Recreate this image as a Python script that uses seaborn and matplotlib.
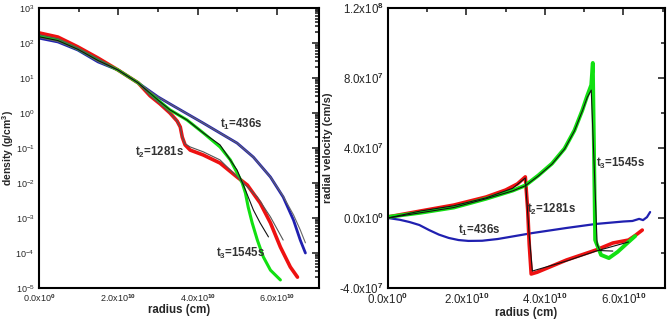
import numpy as np
import pandas as pd
import seaborn as sns
import matplotlib.pyplot as plt
from matplotlib.ticker import FixedLocator, MultipleLocator, LogLocator, FixedFormatter, NullFormatter

# radius in units of 1e10 cm, density given as log10(g/cm^3)
r_t1 = [0, 0.48, 0.98, 1.49, 1.99, 2.50, 3.00, 3.30, 4.14, 4.99, 5.40, 5.83, 6.15, 6.41, 6.58, 6.71]
ld_t1 = [2.14, 2.03, 1.80, 1.46, 1.23, 0.86, 0.46, 0.26, -0.29, -0.86, -1.26, -1.83, -2.40, -3.06, -3.63, -4.0]
r_t2 = [0, 0.48, 0.98, 1.49, 1.99, 2.50, 2.80, 3.05, 3.30, 3.48, 3.56, 3.61, 3.68, 3.81, 4.14, 4.56,
        4.99, 5.25, 5.57, 5.83, 6.08, 6.33, 6.51]
ld_t2 = [2.29, 2.17, 1.89, 1.57, 1.23, 0.86, 0.49, 0.26, 0.0, -0.23, -0.40, -0.69, -0.91, -1.06, -1.2, -1.43,
         -1.83, -2.06, -2.57, -3.14, -3.83, -4.4, -4.69]
r_t3 = [0, 0.48, 0.98, 1.49, 1.99, 2.50, 3.00, 3.30, 3.73, 4.14, 4.56, 4.82, 4.99, 5.12, 5.20, 5.27,
        5.37, 5.50, 5.65, 5.83, 6.08]
ld_t3 = [2.2, 2.09, 1.83, 1.51, 1.23, 0.86, 0.37, 0.09, -0.2, -0.57, -0.97, -1.34, -1.71, -2.0, -2.29, -2.69,
         -3.14, -3.63, -4.11, -4.49, -4.77]
# thin model lines
r_m1 = [0, 0.48, 0.98, 1.49, 1.99, 2.50, 3.00, 3.30, 4.14, 4.99, 5.40, 5.83, 6.15, 6.41, 6.58, 6.71]
ld_m1 = [2.16, 2.04, 1.81, 1.47, 1.23, 0.86, 0.46, 0.26, -0.29, -0.86, -1.26, -1.83, -2.38, -2.91, -3.34, -3.71]
r_m2 = [0, 0.48, 0.98, 1.49, 1.99, 2.50, 2.80, 3.05, 3.30, 3.48, 3.56, 3.61, 3.68, 3.81, 4.14, 4.56,
        5.07, 5.50, 5.83, 6.15]
ld_m2 = [2.24, 2.12, 1.86, 1.55, 1.23, 0.86, 0.49, 0.26, 0.0, -0.23, -0.40, -0.69, -0.88, -0.97, -1.11, -1.34,
         -1.91, -2.4, -2.97, -3.63]
r_m3 = [0, 0.48, 0.98, 1.49, 1.99, 2.50, 3.00, 3.30, 3.73, 4.14, 4.56, 4.99, 5.20, 5.40, 5.57, 5.78]
ld_m3 = [2.18, 2.07, 1.82, 1.5, 1.23, 0.86, 0.37, 0.09, -0.2, -0.57, -0.91, -1.63, -2.2, -2.77, -3.14, -3.54]

# radial velocity in units of 1e7 cm/s
rv_r1 = [0, 0.3, 0.55, 0.8, 1.05, 1.3, 1.55, 1.8, 2.05, 2.4, 2.8, 3.68, 4.55, 5.3, 6.0, 6.23, 6.4, 6.5, 6.6, 6.68]
v_t1 = [0, -0.1, -0.23, -0.4, -0.69, -0.95, -1.14, -1.26, -1.31, -1.3, -1.2, -0.86, -0.57, -0.34, -0.2, -0.17,
        -0.05, -0.12, 0.05, 0.34]
rv_r2 = [0, 0.83, 1.68, 2.5, 3.0, 3.3, 3.5, 3.56, 3.6, 3.65, 3.8, 4.55, 5.3, 5.73, 6.13, 6.3, 6.48]
v_t2 = [0.06, 0.4, 0.74, 1.2, 1.6, 1.95, 2.35, 0.5, -1.5, -3.2, -3.1, -2.4, -1.83, -1.43, -1.26, -1.0, -0.69]
rv_r3 = [0, 0.83, 1.68, 2.5, 3.18, 3.5, 3.83, 4.18, 4.5, 4.75, 4.95, 5.08, 5.18, 5.22, 5.25, 5.28, 5.43, 5.63,
         5.85, 6.13, 6.3]
v_t3 = [0.06, 0.3, 0.6, 1.1, 1.57, 1.86, 2.43, 3.11, 3.97, 5.0, 6.14, 7.0, 7.6, 8.86, 3.89, -1.26, -2.11, -2.29,
        -1.94, -1.37, -1.03]
rv_m2 = [0, 0.83, 1.68, 2.5, 3.18, 3.5, 3.6, 3.68, 4.55, 5.3, 6.13]
v_m2 = [0, 0.4, 0.7, 1.15, 1.7, 2.29, -1.0, -3.03, -2.46, -1.89, -1.37]
rv_m3 = [0, 0.83, 1.68, 2.5, 3.18, 3.5, 3.83, 4.18, 4.5, 4.75, 4.95, 5.08, 5.18, 5.25, 5.33, 5.4, 5.73]
v_m3 = [0, 0.3, 0.6, 1.1, 1.55, 1.84, 2.4, 3.08, 3.94, 4.97, 6.1, 6.9, 7.31, 3.3, -1.5, -1.86, -1.89]

x_ticks = [0, 2, 4, 6]
x_labels = ['0.0x10$^{0}$', '2.0x10$^{10}$', '4.0x10$^{10}$', '6.0x10$^{10}$']
v_ticks = [-4, 0, 4, 8, 12]
v_labels = ['-4.0x10$^{7}$', '0.0x10$^{0}$', '4.0x10$^{7}$', '8.0x10$^{7}$', '1.2x10$^{8}$']

c_red = '#ee1111'
c_green = '#11e011'
c_blue = '#2020b0'

sns.set_style('white')
plt.rcParams['font.family'] = ['Liberation Sans', 'DejaVu Sans']
plt.rcParams['mathtext.fontset'] = 'custom'
plt.rcParams['mathtext.rm'] = 'Liberation Sans:bold'
plt.rcParams['mathtext.it'] = 'Liberation Sans:bold'
plt.rcParams['mathtext.bf'] = 'Liberation Sans:bold'

f = plt.figure(figsize=(6.7, 3.2), dpi=100)
ax1 = f.add_axes([0.058, 0.1, 0.418, 0.875])
ax2 = f.add_axes([0.579, 0.1, 0.413, 0.875])


def draw(ax, x, y, color, lw):
	df = pd.DataFrame({'x': np.array(x) * 1e10, 'y': y})
	sns.lineplot(ax=ax, data=df, x='x', y='y', color=color, linewidth=lw, sort=False, estimator=None)


# left panel: density
draw(ax1, r_t1, 10 ** np.array(ld_t1), c_blue, 2.0)
draw(ax1, r_t2, 10 ** np.array(ld_t2), c_red, 2.6)
draw(ax1, r_t3, 10 ** np.array(ld_t3), c_green, 2.2)
draw(ax1, r_m1, 10 ** np.array(ld_m1), '#666666', 0.8)
draw(ax1, r_m2, 10 ** np.array(ld_m2), '#555555', 0.8)
draw(ax1, r_m3, 10 ** np.array(ld_m3), '#111111', 0.8)
ax1.set_yscale('log')
ax1.set_ylim(1e-5, 1e3)
ax1.yaxis.set_major_locator(LogLocator(base=10, numticks=20))
ax1.yaxis.set_minor_locator(LogLocator(base=10, subs=np.arange(2, 10), numticks=20))
ax1.yaxis.set_minor_formatter(NullFormatter())
ax1.set_ylabel('density (g/cm$^{3}$)', fontsize=7.5, fontweight='bold')
ax1.yaxis.set_label_coords(-0.082, 0.5)
ax1.tick_params(which='both', labelsize=6.5)
tkw = dict(fontsize=8.3, fontweight='bold', color='#333333', va='center')
ax1.text(4.56e10, 10 ** -0.34, 't$_{1}$=436s', **tkw)
ax1.text(2.42e10, 10 ** -1.14, 't$_{2}$=1281s', **tkw)
ax1.text(4.46e10, 10 ** -4.0, 't$_{3}$=1545s', **tkw)

# right panel: radial velocity
draw(ax2, rv_r1, np.array(v_t1) * 1e7, c_blue, 1.6)
draw(ax2, rv_r2, np.array(v_t2) * 1e7, c_red, 2.6)
draw(ax2, rv_r3, np.array(v_t3) * 1e7, c_green, 2.8)
draw(ax2, rv_m2, np.array(v_m2) * 1e7, '#111111', 0.8)
draw(ax2, rv_m3, np.array(v_m3) * 1e7, '#111111', 0.8)
ax2.set_ylim(-4e7, 1.2e8)
ax2.yaxis.set_major_locator(FixedLocator(np.array(v_ticks) * 1e7))
ax2.yaxis.set_major_formatter(FixedFormatter(v_labels))
ax2.yaxis.set_minor_locator(MultipleLocator(2e7))
ax2.set_ylabel('radial velocity (cm/s)', fontsize=8, fontweight='bold')
ax2.yaxis.set_label_coords(-0.2, 0.5)
ax2.tick_params(which='both', labelsize=8.3)
ax2.text(1.78e10, -0.69e7, 't$_{1}$=436s', **tkw)
ax2.text(3.55e10, 0.51e7, 't$_{2}$=1281s', **tkw)
ax2.text(5.3e10, 3.14e7, 't$_{3}$=1545s', **tkw)

for ax in [ax1, ax2]:
	ax.set_xlim(0, 7.05e10)
	ax.xaxis.set_major_locator(FixedLocator(np.array(x_ticks) * 1e10))
	ax.xaxis.set_major_formatter(FixedFormatter(x_labels))
	ax.xaxis.set_minor_locator(MultipleLocator(1e10))
	ax.set_xlabel('radius (cm)', fontsize=8.3, fontweight='bold', labelpad=0)
	ax.tick_params(which='both', direction='in', top=True, right=True, width=1.2)
	ax.tick_params(which='major', length=5, pad=3)
	ax.tick_params(which='minor', length=3)
	for sp in ax.spines.values():
		sp.set_linewidth(1.5)
		sp.set_color('black')

f.savefig('out.png', dpi=100)
